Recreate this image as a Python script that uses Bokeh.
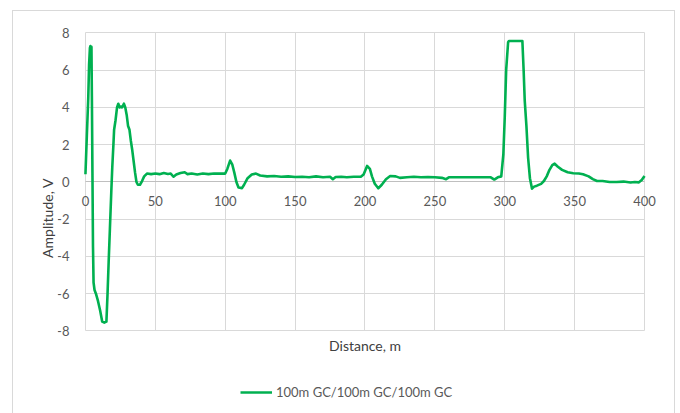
from bokeh.plotting import figure
from bokeh.models import (LinearAxis, FixedTicker, Legend, LegendItem, Range1d, Grid)
from bokeh.embed import file_html
from bokeh.resources import INLINE

# ---- data ----
distance_m = [0, 1, 2, 2.6, 3.2, 3.6, 4.0, 4.3, 4.6, 5.0, 5.4, 5.8, 6.5, 7.5, 9, 10.5,
              12, 13.5, 15, 15.8, 16.6, 17.5, 18.5, 19.2, 20.0, 20.5, 21.5, 22.6, 23.5,
              24.5, 25.5, 26.2, 27.5, 28.5, 29.5, 30.5, 31.5, 32.5, 33.5, 34.5, 35.5,
              36.5, 37.5, 39, 40.5, 42, 44, 47, 50, 53, 56, 59, 61, 63, 65, 68, 71, 73,
              76, 80, 84, 88, 92, 96, 100, 101.5, 103.5, 105, 106.5, 108, 109.5, 112,
              113.5, 116, 119, 122, 125, 130, 135, 140, 145, 150, 155, 160, 165, 170,
              175, 177, 179, 183, 187, 192, 197, 199, 201.5, 203.5, 205, 207, 209.5,
              212, 215, 218, 222, 225, 230, 235, 240, 245, 250, 255, 258, 260, 265,
              270, 275, 280, 285, 290, 292.5, 295, 297.5, 299, 300, 301, 302.4, 303,
              312.6, 313.5, 314.3, 315.5, 316.7, 318, 319.5, 321, 323, 326, 328, 330,
              332, 334, 335.7, 338, 341, 345, 349, 353, 356, 360, 363, 366, 370, 375,
              380, 385, 390, 393, 396, 398, 400]
amplitude_v = [0.41, 2.5, 4.5, 6.3, 7.2, 7.3, 6.6, 7.25, 4.6, 0.5, -3.5, -5.4, -5.8, -6.0,
               -6.4, -6.9, -7.5, -7.55, -7.5, -6.0, -4.3, -2.5, -0.5, 0.8, 2.0, 2.8, 3.3,
               4.0, 4.2, 4.0, 4.05, 4.0, 4.2, 4.0, 3.6, 3.0, 2.8, 2.2, 1.7, 1.1, 0.5, 0.0,
               -0.15, -0.15, 0.05, 0.3, 0.45, 0.42, 0.45, 0.42, 0.48, 0.43, 0.45, 0.28,
               0.4, 0.48, 0.52, 0.42, 0.45, 0.4, 0.45, 0.42, 0.45, 0.45, 0.45, 0.7, 1.15,
               0.95, 0.5, 0.0, -0.3, -0.33, -0.15, 0.2, 0.4, 0.45, 0.35, 0.3, 0.32, 0.28,
               0.3, 0.27, 0.28, 0.25, 0.3, 0.25, 0.28, 0.15, 0.27, 0.28, 0.25, 0.28, 0.28,
               0.4, 0.86, 0.7, 0.3, -0.1, -0.34, -0.15, 0.15, 0.32, 0.3, 0.22, 0.25, 0.28,
               0.25, 0.27, 0.25, 0.22, 0.15, 0.25, 0.25, 0.25, 0.25, 0.25, 0.25, 0.25,
               0.13, 0.25, 0.3, 1.5, 3.5, 6.0, 7.5, 7.57, 7.57, 6.0, 4.35, 3.0, 1.3, 0.2,
               -0.36, -0.25, -0.2, -0.1, 0.05, 0.3, 0.65, 0.9, 0.98, 0.82, 0.65, 0.52,
               0.47, 0.45, 0.41, 0.3, 0.15, 0.05, 0.05, 0.0, 0.0, 0.02, -0.03, 0.0, -0.02,
               0.1, 0.32]
series_name = "100m GC/100m GC/100m GC"
x_ticks = [0, 50, 100, 150, 200, 250, 300, 350, 400]
y_ticks = [-8, -6, -4, -2, 0, 2, 4, 6, 8]
y_tick_labels = {t: str(t) for t in y_ticks}

FONT = "Lato"
TXT = "#595959"
TITLE = "#404040"
GRID = "#d9d9d9"
GREEN = "#00b050"

p = figure(width=661, height=402, output_backend="svg", toolbar_location=None,
           x_range=Range1d(-20, 415), y_range=Range1d(-12.27, 8.4),
           x_axis_type=None, y_axis_type=None,
           min_border_left=44, min_border_right=9, min_border_top=14,
           min_border_bottom=3, frame_width=608, frame_height=385)
p.outline_line_color = None
p.background_fill_color = "white"
p.border_fill_color = "white"
p.styles = {"margin-left": "12px", "margin-top": "10px",
            "border-top": "1px solid #d9d9d9", "border-left": "1px solid #d9d9d9",
            "border-right": "1px solid #d9d9d9"}

# grid, limited to the data area
p.add_layout(Grid(dimension=0, ticker=FixedTicker(ticks=x_ticks),
                  grid_line_color=GRID, cross_bounds=(-8, 8)))
p.add_layout(Grid(dimension=1, ticker=FixedTicker(ticks=y_ticks),
                  grid_line_color=GRID, cross_bounds=(0, 400)))
p.add_layout(Grid(dimension=1, ticker=FixedTicker(ticks=[0]),
                  grid_line_color="#bfbfbf", cross_bounds=(0, 400)))

# y tick labels at x = 0
yax = LinearAxis(ticker=FixedTicker(ticks=y_ticks), fixed_location=0,
                 major_label_overrides=y_tick_labels)
yax.axis_line_color = None
yax.major_tick_line_color = None
yax.minor_tick_line_color = None
yax.major_label_text_font = FONT
yax.major_label_text_font_size = "13px"
yax.major_label_text_color = TXT
yax.major_label_standoff = 10
p.add_layout(yax, "left")

ylab = LinearAxis(ticker=FixedTicker(ticks=[]), axis_label="Amplitude, V",
                  bounds=(-8, 8))
ylab.axis_line_color = None
ylab.major_tick_line_color = None
ylab.minor_tick_line_color = None
ylab.major_label_text_font_size = "0px"
ylab.axis_label_text_font = FONT
ylab.axis_label_text_font_size = "14px"
ylab.axis_label_text_font_style = "normal"
ylab.axis_label_text_color = TITLE
ylab.axis_label_standoff = 2
p.add_layout(ylab, "left")

# x tick labels at y = 0
xax = LinearAxis(ticker=FixedTicker(ticks=x_ticks), fixed_location=0)
xax.axis_line_color = None
xax.major_tick_line_color = None
xax.minor_tick_line_color = None
xax.major_label_text_font = FONT
xax.major_label_text_font_size = "13px"
xax.major_label_text_color = TXT
xax.major_label_standoff = 8
p.add_layout(xax, "below")

# x axis title under the bottom of the data area
xlab = LinearAxis(ticker=FixedTicker(ticks=[]), axis_label="Distance, m",
                  fixed_location=-8, bounds=(0, 400))
xlab.axis_line_color = None
xlab.major_tick_line_color = None
xlab.minor_tick_line_color = None
xlab.major_label_text_font_size = "0px"
xlab.axis_label_text_font = FONT
xlab.axis_label_text_font_size = "14px"
xlab.axis_label_text_font_style = "normal"
xlab.axis_label_text_color = TITLE
xlab.axis_label_standoff = 6
p.add_layout(xlab, "below")

r = p.line(distance_m, amplitude_v, line_color=GREEN, line_width=2.6,
           line_join="round")

legend = Legend(items=[LegendItem(label=series_name, renderers=[r])],
                location=(183, 10), orientation="horizontal",
                label_text_font=FONT, label_text_font_size="13px",
                label_text_color=TXT, glyph_width=32, glyph_height=16,
                label_standoff=4, padding=0, margin=0, spacing=0,
                border_line_color=None, background_fill_alpha=0)
p.add_layout(legend, "center")

open("out.html", "w").write(file_html(p, INLINE))
